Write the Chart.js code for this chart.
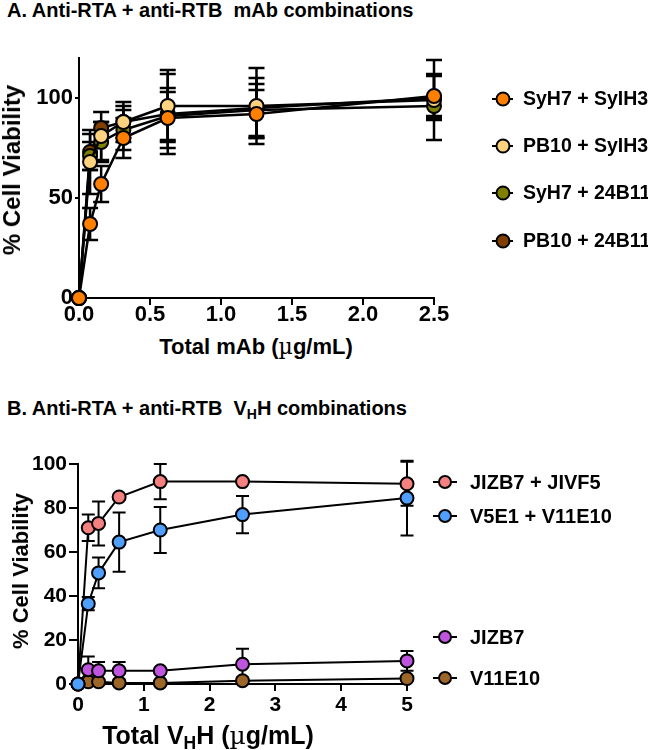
<!DOCTYPE html>
<html>
<head>
<meta charset="utf-8">
<script src="https://cdn.jsdelivr.net/npm/chart.js@4"></script>
<style>
  body { margin: 0; background: #fff; font-family: "Liberation Sans", Arial, sans-serif; font-weight: bold; color: #000; }
  #page { position: relative; width: 648px; height: 750px; overflow: hidden; }
  canvas { position: absolute; left: 0; }
  .title { position: absolute; left: 7px; font-size: 20px; line-height: 1; white-space: nowrap; }
  .axt { position: absolute; white-space: nowrap; line-height: 1; transform: translate(-50%, -50%); }
  .rot { transform: translate(-50%, -50%) rotate(-90deg); }
  .mu { font-weight: normal; font-family: "DejaVu Serif", serif; }
  sub { font-size: 0.7em; vertical-align: -0.3em; line-height: 0; }
  .leg { position: absolute; height: 20px; display: flex; align-items: center; white-space: nowrap; line-height: 1; }
  .mk { position: relative; display: inline-block; height: 20px; }
  .mk .stub { position: absolute; left: 0; right: 0; top: 9px; height: 2px; background: #000; }
  .mk .dot { position: absolute; top: 50%; left: 50%; border: 2px solid #000; border-radius: 50%; transform: translate(-50%, -50%); }
</style>
</head>
<body>
<div id="page">
  <div class="title" style="top:0px">A. Anti-RTA + anti-RTB&nbsp; mAb combinations</div>
  <canvas id="chartA" width="648" height="290" style="top:40px"></canvas>
  <div class="axt rot" style="left:12px; top:170px; font-size:24px">% Cell Viability</div>
  <div class="axt" style="left:256px; top:347px; font-size:22px">Total mAb (<span class="mu">µ</span>g/mL)</div>
  <div id="legendA"></div>

  <div class="title" style="top:398px">B. Anti-RTA + anti-RTB&nbsp; V<sub>H</sub>H combinations</div>
  <canvas id="chartB" width="648" height="290" style="top:440px"></canvas>
  <div class="axt rot" style="left:21px; top:571px; font-size:22px">% Cell Viability</div>
  <div class="axt" style="left:208px; top:735px; font-size:25px">Total V<sub>H</sub>H (<span class="mu">µ</span>g/mL)</div>
  <div id="legendB"></div>
</div>

<script>
// ==========================
// Data - panel A (mAb)
// ==========================
const doseA = [0, 0.078, 0.156, 0.3125, 0.625, 1.25, 2.5];
const labelsA = ["SyH7 + SyIH3", "PB10 + SyIH3", "SyH7 + 24B11", "PB10 + 24B11"];
const syh7Syih3 = [0, 37, 57, 80, 90, 92, 101];
const syh7Syih3Err = [0, 8, 9, 10, 15, 12, 11];
const pb10Syih3 = [0, 68, 81, 88, 96, 96, 99];
const pb10Syih3Err = [0, 16, 12, 10, 18, 19, 20];
const syh7B11 = [0, 71, 78, 84, 91, 94, 96];
const syh7B11Err = [0, 7, 10, 10, 12, 13, 5];
const pb10B11 = [0, 73, 85, 88, 92, 95, 100];
const pb10B11Err = [0, 9, 3, 8, 20, 15, 11];
const ticksA = [0, 50, 100];

// ==========================
// Data - panel B (VHH)
// ==========================
const doseB = [0, 0.156, 0.3125, 0.625, 1.25, 2.5, 5];
const labelsB = ["JIZB7 + JIVF5", "V5E1 + V11E10", "JIZB7", "V11E10"];
const jizb7Jivf5 = [0, 71, 73, 85, 92, 92, 91];
const jizb7Jivf5Err = [0, 6, 10, 0, 8, 0, 10];
const v5e1V11e10 = [0, 36.5, 50.5, 64.5, 70, 77, 84.5];
const v5e1V11e10Err = [0, 3, 7, 13.5, 10.5, 8.5, 17];
const jizb7 = [0, 6.5, 6, 6, 6, 9, 10.5];
const jizb7Err = [0, 6, 4, 4, 0, 7, 4.5];
const v11e10 = [0, 1, 1, 0.5, 0.5, 1.5, 2.5];
const v11e10Err = [0, 1, 1, 0.5, 0.5, 1.5, 1];
const ticksB = [0, 20, 40, 60, 80, 100];

const coloursA = ["#FF7F00", "#FFD27F", "#7F8000", "#7F3F00"];
const coloursB = ["#F4807F", "#4F9FFF", "#BF55DF", "#9C6628"];

// vertical error bars drawn with the y scale of the chart
const errorBars = {
    id: "errorBars",
    beforeDatasetsDraw(chart, args, opts) {
        const ctx = chart.ctx;
        const y = chart.scales.y;
        chart.data.datasets.forEach((ds, i) => {
            const meta = chart.getDatasetMeta(i);
            ctx.save();
            ctx.strokeStyle = "#000";
            ctx.lineWidth = opts.width;
            meta.data.forEach((pt, j) => {
                const e = ds.errors[j];
                if (!e) return;
                const v = ds.data[j].y;
                const top = y.getPixelForValue(v + e);
                const bot = y.getPixelForValue(v - e);
                ctx.beginPath();
                ctx.moveTo(pt.x, top); ctx.lineTo(pt.x, bot);
                ctx.moveTo(pt.x - opts.cap, top); ctx.lineTo(pt.x + opts.cap, top);
                ctx.moveTo(pt.x - opts.cap, bot); ctx.lineTo(pt.x + opts.cap, bot);
                ctx.stroke();
            });
            ctx.restore();
        });
    }
};

function series(label, xs, ys, errs, colour, order, r, lw) {
    return {
        label: label,
        data: xs.map((x, i) => ({ x: x, y: ys[i] })),
        errors: errs,
        order: order,
        showLine: true,
        borderColor: "#000",
        borderWidth: lw,
        pointRadius: r,
        pointBorderWidth: 2,
        pointBorderColor: "#000",
        pointBackgroundColor: colour,
        clip: false
    };
}

function axis(min, max, step, size, tickLen, fit, extra) {
    return Object.assign({
        type: "linear",
        min: min,
        max: max,
        border: { display: true, color: "#000", width: 2 },
        grid: { drawOnChartArea: false, color: "#000", lineWidth: 2, tickLength: tickLen },
        ticks: { stepSize: step, color: "#000", padding: 2, font: { family: "Liberation Sans", weight: "bold", size: size } },
        afterFit: fit
    }, extra);
}

// ==========================
// Panel A
// ==========================
new Chart(document.getElementById("chartA"), {
    type: "scatter",
    data: {
        datasets: [
            series(labelsA[0], doseA, syh7Syih3, syh7Syih3Err, coloursA[0], 0, 7, 2.5),
            series(labelsA[1], doseA, pb10Syih3, pb10Syih3Err, coloursA[1], 1, 7, 2.5),
            series(labelsA[2], doseA, syh7B11, syh7B11Err, coloursA[2], 2, 7, 2.5),
            series(labelsA[3], doseA, pb10B11, pb10B11Err, coloursA[3], 3, 7, 2.5)
        ]
    },
    options: {
        responsive: false,
        animation: false,
        layout: { padding: { top: 18, right: 214, left: 0, bottom: 0 } },
        plugins: { legend: { display: false }, tooltip: { enabled: false }, errorBars: { width: 2.5, cap: 8 } },
        scales: {
            x: axis(0, 2.5, 0.5, 22, 7, s => { s.height = 32; }, {
                ticks: { stepSize: 0.5, color: "#000", padding: -3, callback: v => v.toFixed(1),
                         font: { family: "Liberation Sans", weight: "bold", size: 22 } }
            }),
            y: axis(0, 120, 50, 22, 4, s => { s.width = 79; }, {
                afterBuildTicks: s => { s.ticks = ticksA.map(v => ({ value: v })); }
            })
        }
    },
    plugins: [errorBars]
});

// ==========================
// Panel B
// ==========================
new Chart(document.getElementById("chartB"), {
    type: "scatter",
    data: {
        datasets: [
            series(labelsB[0], doseB, jizb7Jivf5, jizb7Jivf5Err, coloursB[0], 1, 6.5, 2),
            series(labelsB[1], doseB, v5e1V11e10, v5e1V11e10Err, coloursB[1], 0, 6.5, 2),
            series(labelsB[2], doseB, jizb7, jizb7Err, coloursB[2], 2, 6.5, 2),
            series(labelsB[3], doseB, v11e10, v11e10Err, coloursB[3], 3, 6.5, 2)
        ]
    },
    options: {
        responsive: false,
        animation: false,
        layout: { padding: { top: 24, right: 241, left: 0, bottom: 0 } },
        plugins: { legend: { display: false }, tooltip: { enabled: false }, errorBars: { width: 2, cap: 6.5 } },
        scales: {
            x: axis(0, 5, 1, 21, 7, s => { s.height = 46; }),
            y: axis(0, 100, 20, 21, 9, s => { s.width = 78; }, {
                afterBuildTicks: s => { s.ticks = ticksB.map(v => ({ value: v })); }
            })
        }
    },
    plugins: [errorBars]
});

// ==========================
// Legends (html)
// ==========================
function legend(el, labels, colours, rows, m) {
    labels.forEach((label, i) => {
        const row = document.createElement("div");
        row.className = "leg";
        row.style.left = m.left + "px";
        row.style.top = (rows[i] - 10) + "px";
        row.style.fontSize = m.font + "px";
        row.innerHTML =
            '<span class="mk" style="width:' + m.w + 'px;margin-right:' + m.gap + 'px">' +
            '<span class="stub"></span>' +
            '<span class="dot" style="width:' + m.d + 'px;height:' + m.d + 'px;background:' + colours[i] + '"></span>' +
            '</span>' + label;
        document.getElementById(el).appendChild(row);
    });
}

legend("legendA", labelsA, coloursA, [99, 146, 193, 241], { left: 492, w: 21, gap: 10, d: 11, font: 19.5 });
legend("legendB", labelsB, coloursB, [482, 516, 637, 678], { left: 433, w: 24, gap: 13, d: 10, font: 20 });
</script>
</body>
</html>
